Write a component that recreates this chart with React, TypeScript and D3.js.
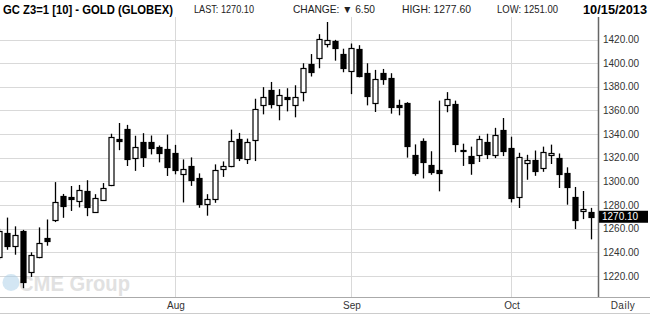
import React from "react";
import * as d3 from "d3";

const dates: string[] = [
  "2013-07-01","2013-07-02","2013-07-03","2013-07-05","2013-07-08","2013-07-09","2013-07-10","2013-07-11","2013-07-12",
  "2013-07-15","2013-07-16","2013-07-17","2013-07-18","2013-07-19","2013-07-22","2013-07-23","2013-07-24","2013-07-25",
  "2013-07-26","2013-07-29","2013-07-30","2013-07-31",
  "2013-08-01","2013-08-02","2013-08-05","2013-08-06","2013-08-07","2013-08-08","2013-08-09","2013-08-12","2013-08-13",
  "2013-08-14","2013-08-15","2013-08-16","2013-08-19","2013-08-20","2013-08-21","2013-08-22","2013-08-23","2013-08-26",
  "2013-08-27","2013-08-28","2013-08-29","2013-08-30",
  "2013-09-03","2013-09-04","2013-09-05","2013-09-06","2013-09-09","2013-09-10","2013-09-11","2013-09-12","2013-09-13",
  "2013-09-16","2013-09-17","2013-09-18","2013-09-19","2013-09-20","2013-09-23","2013-09-24","2013-09-25","2013-09-26",
  "2013-09-27","2013-09-30",
  "2013-10-01","2013-10-02","2013-10-03","2013-10-04","2013-10-07","2013-10-08","2013-10-09","2013-10-10","2013-10-11",
  "2013-10-14","2013-10-15",
];

const opens: number[] = [
  1236, 1256, 1245, 1258.3, 1223.1, 1235.8, 1252, 1267.5, 1287.5, 1287, 1283.3, 1292, 1274.2, 1284.4, 1296.7, 1335.8,
  1344.2, 1320, 1333.3, 1333.7, 1328.7, 1327,
  1323.6, 1306.6, 1312.7, 1303.2, 1280.5, 1284.7, 1310.8, 1312.7, 1336.2, 1319.2, 1335.1, 1364.5, 1377.1, 1364.5,
  1371.3, 1364.5, 1375.5, 1399, 1404.1, 1415.8, 1418.6, 1407.4,
  1393.1, 1411.6, 1391.5, 1366.3, 1391.5, 1387.3, 1364.9, 1366.6, 1322.7, 1333.8, 1313.7, 1309.5, 1364.6, 1365.8,
  1326.7, 1321.9, 1322.5, 1333.3, 1322.5, 1343.3,
  1328.3, 1286.7, 1315.8, 1317.8, 1311.7, 1322.5, 1319.4, 1306.9, 1287, 1275, 1274.4,
];
const highs: number[] = [
  1260, 1269.4, 1262, 1259, 1240, 1261.1, 1267.8, 1299.4, 1289.4, 1296.1, 1297, 1301, 1289.2, 1298.6, 1340.3, 1349.4,
  1347.8, 1338.6, 1340.8, 1338.8, 1330.4, 1339.6,
  1330.9, 1318.6, 1320.3, 1306.8, 1289.2, 1314.4, 1316.9, 1343.8, 1341, 1336.2, 1369.9, 1379.7, 1384.1, 1378,
  1378.8, 1381.3, 1399.9, 1407.7, 1424.5, 1434.8, 1419.7, 1412.2,
  1416.6, 1415.2, 1399.9, 1394.3, 1395.1, 1391.5, 1369.1, 1367, 1331.3, 1336.4, 1325.5, 1368.3, 1375.5, 1368.3,
  1331.9, 1329.4, 1338.6, 1340.3, 1345.3, 1353.6,
  1337.8, 1324.2, 1322.5, 1326.1, 1329.4, 1331.1, 1323.6, 1311.9, 1295.3, 1291.9, 1277.6,
];
const lows: number[] = [
  1234, 1242.2, 1238, 1209.7, 1219.2, 1235, 1245.6, 1265.6, 1269.2, 1275, 1278, 1270.6, 1274, 1284, 1296, 1326.4,
  1313, 1308.9, 1312.2, 1322.8, 1316.1, 1304.6,
  1306, 1282.2, 1296.2, 1277.7, 1271, 1281.9, 1303.8, 1312, 1317.2, 1314.7, 1317.2, 1356.7, 1361.7, 1351.7,
  1359.2, 1354.2, 1367.7, 1388.7, 1395.7, 1413.3, 1402.1, 1392.3,
  1373.8, 1388, 1364.3, 1358.7, 1381.7, 1357.3, 1355.9, 1320.1, 1304.8, 1302.5, 1305.6, 1291.6, 1358.5, 1324.7,
  1313.1, 1305.6, 1316.4, 1318.9, 1319.7, 1321.4,
  1282.2, 1277.5, 1301.4, 1304.7, 1308.1, 1314.7, 1294.4, 1280.3, 1259.7, 1268.1, 1251,
];
const closes: number[] = [
  1258, 1245, 1255, 1215, 1237.5, 1248.3, 1249.2, 1282.5, 1278.9, 1284.7, 1292.8, 1278, 1285.8, 1294.2, 1337.5, 1333.9,
  1319.2, 1329.2, 1320.8, 1328.1, 1323.9, 1312.2,
  1309.6, 1310.8, 1301.2, 1281.3, 1285.5, 1309.9, 1312.7, 1334.3, 1319.7, 1333.4, 1361.2, 1371.3, 1365.4, 1372.9,
  1369.6, 1371.3, 1395.7, 1392.3, 1420.8, 1419.2, 1412.4, 1395.7,
  1412.4, 1389, 1372.2, 1386.4, 1386.4, 1362.9, 1362.9, 1329.9, 1307.3, 1316.5, 1308.1, 1306.7, 1369.4, 1331.4,
  1325.6, 1315.6, 1335.8, 1323.1, 1339.2, 1325.8,
  1285.6, 1320.8, 1317.8, 1309.2, 1325, 1324.4, 1306.4, 1295.6, 1267.2, 1276.6, 1270.1,
];

const yTicks: number[] = [1220, 1240, 1260, 1280, 1300, 1320, 1340, 1360, 1380, 1400, 1420];
const monthTicks: string[] = ["2013-08-01", "2013-09-03", "2013-10-01"];
const monthLabels: string[] = ["Aug", "Sep", "Oct"];
const lastPrice = 1270.1;

const W = 650;
const H = 314;
const plotLeft = 0;
const plotRight = 598;
const plotTop = 17;
const plotBottom = 297;
const FONT = "'Liberation Sans', Arial, sans-serif";

export default function App() {
  const x = d3.scalePoint<string>().domain(dates).range([-0.7, 591.3]);
  const y = d3.scaleLinear().domain([1220, 1420]).range([276, 39.5]);
  const px = (d: string) => Math.round(x(d) as number);

  return (
    <svg
      width={W}
      height={H}
      style={{ position: "absolute", left: 0, top: 0, background: "#fff" }}
      fontFamily={FONT}
    >
      <defs>
        <clipPath id="plotClip">
          <rect x={plotLeft} y={plotTop} width={plotRight - plotLeft} height={plotBottom - plotTop} />
        </clipPath>
      </defs>
      <rect x={0} y={0} width={W} height={H} fill="#fff" />

      {/* header */}
      <text x={3} y={13.5} fontSize={12.5} fontWeight="bold" fill="#000" textLength={170} lengthAdjust="spacingAndGlyphs">
        GC Z3=1 [10] - GOLD (GLOBEX)
      </text>
      <text x={194} y={13} fontSize={10.5} fill="#222" textLength={60} lengthAdjust="spacingAndGlyphs">LAST: 1270.10</text>
      <text x={293} y={13} fontSize={10.5} fill="#222" textLength={82} lengthAdjust="spacingAndGlyphs">CHANGE: ▼ 6.50</text>
      <text x={402} y={13} fontSize={10.5} fill="#222" textLength={69} lengthAdjust="spacingAndGlyphs">HIGH: 1277.60</text>
      <text x={497} y={13} fontSize={10.5} fill="#222" textLength={61} lengthAdjust="spacingAndGlyphs">LOW: 1251.00</text>
      <text x={583} y={13.5} fontSize={12.5} fontWeight="bold" fill="#000" textLength={64} lengthAdjust="spacingAndGlyphs">10/15/2013</text>

      {/* grid */}
      {yTicks.map((t) => (
        <line key={"g" + t} x1={plotLeft} x2={plotRight} y1={Math.round(y(t)) + 0.5} y2={Math.round(y(t)) + 0.5} stroke="#d9d9d9" strokeWidth={1} />
      ))}
      {monthTicks.map((m) => (
        <line key={"v" + m} x1={px(m) + 0.5} x2={px(m) + 0.5} y1={plotTop} y2={plotBottom} stroke="#d9d9d9" strokeWidth={1} />
      ))}

      {/* watermark */}
      <g opacity={0.5}>
        <circle cx={11} cy={282.5} r={8.5} fill="#a9cfe8" />
        <text x={19} y={291} fontSize={22} fill="#c4c4c4" fontWeight="bold" textLength={111} lengthAdjust="spacingAndGlyphs">CME Group</text>
      </g>

      {/* candles */}
      <g clipPath="url(#plotClip)">
        {dates.map((d, i) => {
          const cx = px(d);
          const o = opens[i];
          const c = closes[i];
          const up = c >= o;
          const top = Math.round(y(Math.max(o, c)));
          const bot = Math.round(y(Math.min(o, c)));
          const h = Math.max(bot - top, 1);
          return (
            <g key={d}>
              <line x1={cx + 0.5} x2={cx + 0.5} y1={y(highs[i])} y2={y(lows[i])} stroke="#000" strokeWidth={1.3} />
              <rect x={cx - 2} y={top + 0.5} width={5} height={h} fill={up ? "#fff" : "#000"} stroke="#000" strokeWidth={1.2} />
            </g>
          );
        })}
      </g>

      {/* axes lines */}
      <line x1={plotRight + 0.5} x2={plotRight + 0.5} y1={plotTop} y2={plotBottom} stroke="#666" strokeWidth={1.5} />
      <line x1={0} x2={W} y1={plotBottom + 0.5} y2={plotBottom + 0.5} stroke="#aaa" strokeWidth={1} />
      <line x1={0} x2={W} y1={H - 0.5} y2={H - 0.5} stroke="#ccc" strokeWidth={1} />

      {/* y labels */}
      {yTicks.map((t) => (
        <text key={"t" + t} x={603} y={y(t) + 3.5} fontSize={10} fill="#333">
          {d3.format(".2f")(t)}
        </text>
      ))}
      <rect x={599} y={y(lastPrice) - 6} width={49} height={12} fill="#000" />
      <text x={602} y={y(lastPrice) + 3.5} fontSize={10} fill="#fff">
        {d3.format(".2f")(lastPrice)}
      </text>

      {/* x labels */}
      {monthTicks.map((m, i) => (
        <text key={"x" + m} x={px(m) + 1} y={308.5} fontSize={10} fill="#333" textAnchor="middle">
          {monthLabels[i]}
        </text>
      ))}
      <text x={623} y={308.5} fontSize={10} fill="#333" textAnchor="middle" letterSpacing={0.5}>Daily</text>
    </svg>
  );
}
